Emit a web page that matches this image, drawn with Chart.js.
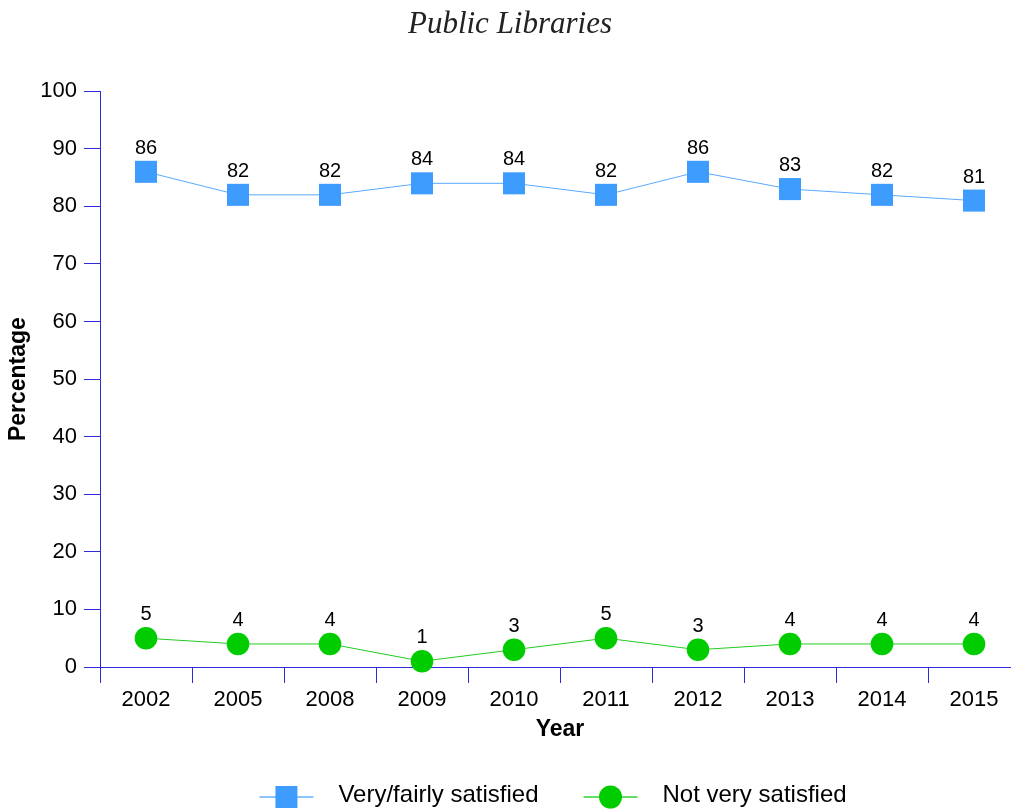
<!DOCTYPE html>
<html>
<head>
<meta charset="utf-8">
<script src="https://cdn.jsdelivr.net/npm/chart.js@4/dist/chart.umd.min.js"></script>
<style>
  html, body { margin: 0; padding: 0; background: #ffffff; overflow: hidden; }
  #wrap { width: 1022px; height: 810px; }
</style>
</head>
<body>
<div id="wrap"><canvas id="chart" width="1022" height="810"></canvas></div>
<script>
// Survey years and satisfaction shares (%)
const years = ['2002', '2005', '2008', '2009', '2010', '2011', '2012', '2013', '2014', '2015'];
const satisfied = [86, 82, 82, 84, 84, 82, 86, 83, 82, 81];
const notSatisfied = [5, 4, 4, 1, 3, 5, 3, 4, 4, 4];
const seriesNames = ['Very/fairly satisfied', 'Not very satisfied'];
const yTicks = [0, 10, 20, 30, 40, 50, 60, 70, 80, 90, 100];

const SANS = '"Liberation Sans", Arial, Helvetica, sans-serif';
const AXIS_BLUE = '#2b2bdc';

// Numbers printed above every marker
const valueLabels = {
  id: 'valueLabels',
  afterDatasetsDraw(chart) {
    const ctx = chart.ctx;
    ctx.save();
    ctx.font = '20px ' + SANS;
    ctx.fillStyle = '#000000';
    ctx.textAlign = 'center';
    ctx.textBaseline = 'middle';
    chart.data.datasets.forEach((ds, i) => {
      const meta = chart.getDatasetMeta(i);
      meta.data.forEach((pt, j) => {
        ctx.fillText(String(ds.data[j]), pt.x, pt.y - 23.5);
      });
    });
    ctx.restore();
  }
};

// Legend row: short line through the marker, then the series name
const lineLegend = {
  id: 'lineLegend',
  afterDraw(chart) {
    const ctx = chart.ctx;
    const area = chart.chartArea;
    const yMark = 797, yText = 795;
    const lineLen = 54, textGap = 25, itemGap = 45;
    ctx.save();
    ctx.font = '24px ' + SANS;
    const widths = chart.data.datasets.map(ds => lineLen + textGap + ctx.measureText(ds.label).width);
    const total = widths.reduce((a, b) => a + b, 0) + itemGap * (widths.length - 1);
    let x = (area.left + area.right) / 2 - total / 2 - 7;
    chart.data.datasets.forEach((ds, i) => {
      ctx.strokeStyle = ds.legendLine;
      ctx.lineWidth = 2;
      ctx.beginPath();
      ctx.moveTo(x, yMark);
      ctx.lineTo(x + lineLen, yMark);
      ctx.stroke();
      ctx.fillStyle = ds.pointBackgroundColor;
      const cx = x + lineLen / 2;
      if (ds.pointStyle === 'rect') {
        ctx.fillRect(cx - 11, yMark - 11, 22, 22);
      } else {
        ctx.beginPath();
        ctx.arc(cx, yMark, 11.5, 0, Math.PI * 2);
        ctx.fill();
      }
      ctx.fillStyle = '#000000';
      ctx.textAlign = 'left';
      ctx.textBaseline = 'middle';
      ctx.fillText(ds.label, x + lineLen + textGap, yText);
      x += widths[i] + itemGap;
    });
    ctx.restore();
  }
};

new Chart(document.getElementById('chart'), {
  type: 'line',
  data: {
    labels: years,
    datasets: [
      {
        label: seriesNames[0],
        data: satisfied,
        borderColor: '#5aa9ff',
        borderWidth: 1,
        pointStyle: 'rect',
        pointRadius: 15.6,
        pointHoverRadius: 15.6,
        pointBackgroundColor: '#3f9cff',
        pointBorderColor: '#3f9cff',
        pointBorderWidth: 0,
        legendLine: '#8cc4ff',
        tension: 0,
        clip: false
      },
      {
        label: seriesNames[1],
        data: notSatisfied,
        borderColor: '#22cc22',
        borderWidth: 1,
        pointStyle: 'circle',
        pointRadius: 11.3,
        pointHoverRadius: 11.3,
        pointBackgroundColor: '#00cc00',
        pointBorderColor: '#00cc00',
        pointBorderWidth: 0,
        legendLine: '#66dd66',
        tension: 0,
        clip: false
      }
    ]
  },
  options: {
    responsive: false,
    animation: false,
    layout: { autoPadding: false, padding: { left: 0, right: 2, top: 0, bottom: 67 } },
    plugins: {
      legend: { display: false },
      tooltip: { enabled: false },
      title: {
        display: true,
        text: 'Public Libraries',
        color: '#222222',
        font: { family: '"Liberation Serif", "DejaVu Serif", serif', size: 31, style: 'italic', weight: 'normal' },
        padding: { top: 6, bottom: 48 }
      }
    },
    scales: {
      x: {
        type: 'category',
        offset: true,
        afterFit(scale) {
          scale.height = 76;
          scale.paddingLeft = 0;
          scale.paddingRight = 0;
        },
        border: { display: true, color: AXIS_BLUE, width: 1 },
        grid: {
          offset: true,
          drawOnChartArea: false,
          drawTicks: true,
          tickLength: 16,
          color: AXIS_BLUE
        },
        ticks: {
          color: '#000000',
          font: { family: SANS, size: 22 },
          padding: 4,
          maxRotation: 0
        },
        title: {
          display: true,
          text: 'Year',
          color: '#000000',
          font: { family: SANS, size: 23, weight: 'bold' },
          padding: 0
        }
      },
      y: {
        min: 0,
        max: 100,
        afterFit(scale) { scale.width = 100; },
        afterBuildTicks(scale) { scale.ticks = yTicks.map(v => ({ value: v })); },
        border: { display: true, color: AXIS_BLUE, width: 1 },
        grid: {
          drawOnChartArea: false,
          drawTicks: true,
          tickLength: 16,
          color: AXIS_BLUE
        },
        ticks: {
          color: '#000000',
          font: { family: SANS, size: 22 },
          padding: 7
        },
        title: {
          display: true,
          text: 'Percentage',
          color: '#000000',
          font: { family: SANS, size: 23, weight: 'bold' },
          padding: { top: 5, bottom: 0 }
        }
      }
    }
  },
  plugins: [valueLabels, lineLegend]
});
</script>
</body>
</html>
